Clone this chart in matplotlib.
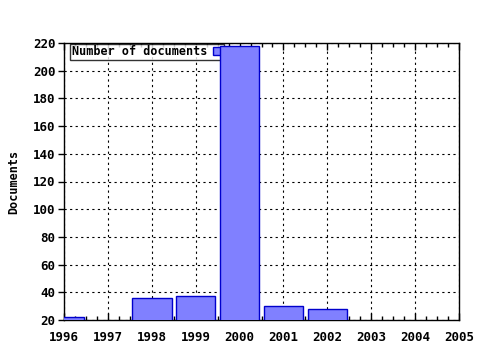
import matplotlib
matplotlib.use("Agg")
import matplotlib.pyplot as plt
from matplotlib.ticker import MultipleLocator

years = [1996, 1998, 1999, 2000, 2001, 2002]
docs = [22, 36, 37, 218, 30, 28]
xticks = list(range(1996, 2006))
yticks = list(range(20, 221, 20))

plt.rcParams['font.family'] = ['DejaVu Sans Mono']
fig = plt.figure(figsize=(4.8, 3.5), dpi=100)
ax = fig.add_axes([64/480, 1-320/350, (459-64)/480, (320-43)/350])
ax.bar(years, docs, width=0.9, bottom=0, color='#8080ff', edgecolor='#0000cc',
       linewidth=1.0, label='Number of documents', zorder=3)
ax.set_xlim(1996, 2005)
ax.set_ylim(20, 220)
ax.set_xticks(xticks)
ax.set_yticks(yticks)
ax.xaxis.set_minor_locator(MultipleLocator(0.25))
ax.tick_params(axis='x', which='major', direction='in', length=5, width=1,
               labelsize=9, top=True, pad=8)
ax.tick_params(axis='x', which='minor', direction='in', length=3, width=1, top=True)
ax.tick_params(axis='y', which='major', direction='out', length=4, width=1,
               labelsize=9, right=False, pad=2)
for lab in ax.get_xticklabels() + ax.get_yticklabels():
    lab.set_fontweight('bold')
ax.grid(True, which='major', linestyle=(0, (2, 3)), color='black', linewidth=0.8, zorder=0)
for s in ax.spines.values():
    s.set_linewidth(1)
    s.set_color('black')
ax.set_ylabel('Documents', fontsize=8.5, fontweight='bold', labelpad=9)
leg = ax.legend(loc='upper left', bbox_to_anchor=(0.015, 0.998), markerfirst=False,
                fontsize=8.5, frameon=True, fancybox=False, edgecolor='black',
                borderpad=0.15, handlelength=0.8, handleheight=0.6, handletextpad=0.5,
                borderaxespad=0.0)
leg.get_frame().set_linewidth(1)
for t in leg.get_texts():
    t.set_fontweight('bold')
leg.set_zorder(2.5)
fig.savefig('out.png', dpi=100, facecolor='white')
